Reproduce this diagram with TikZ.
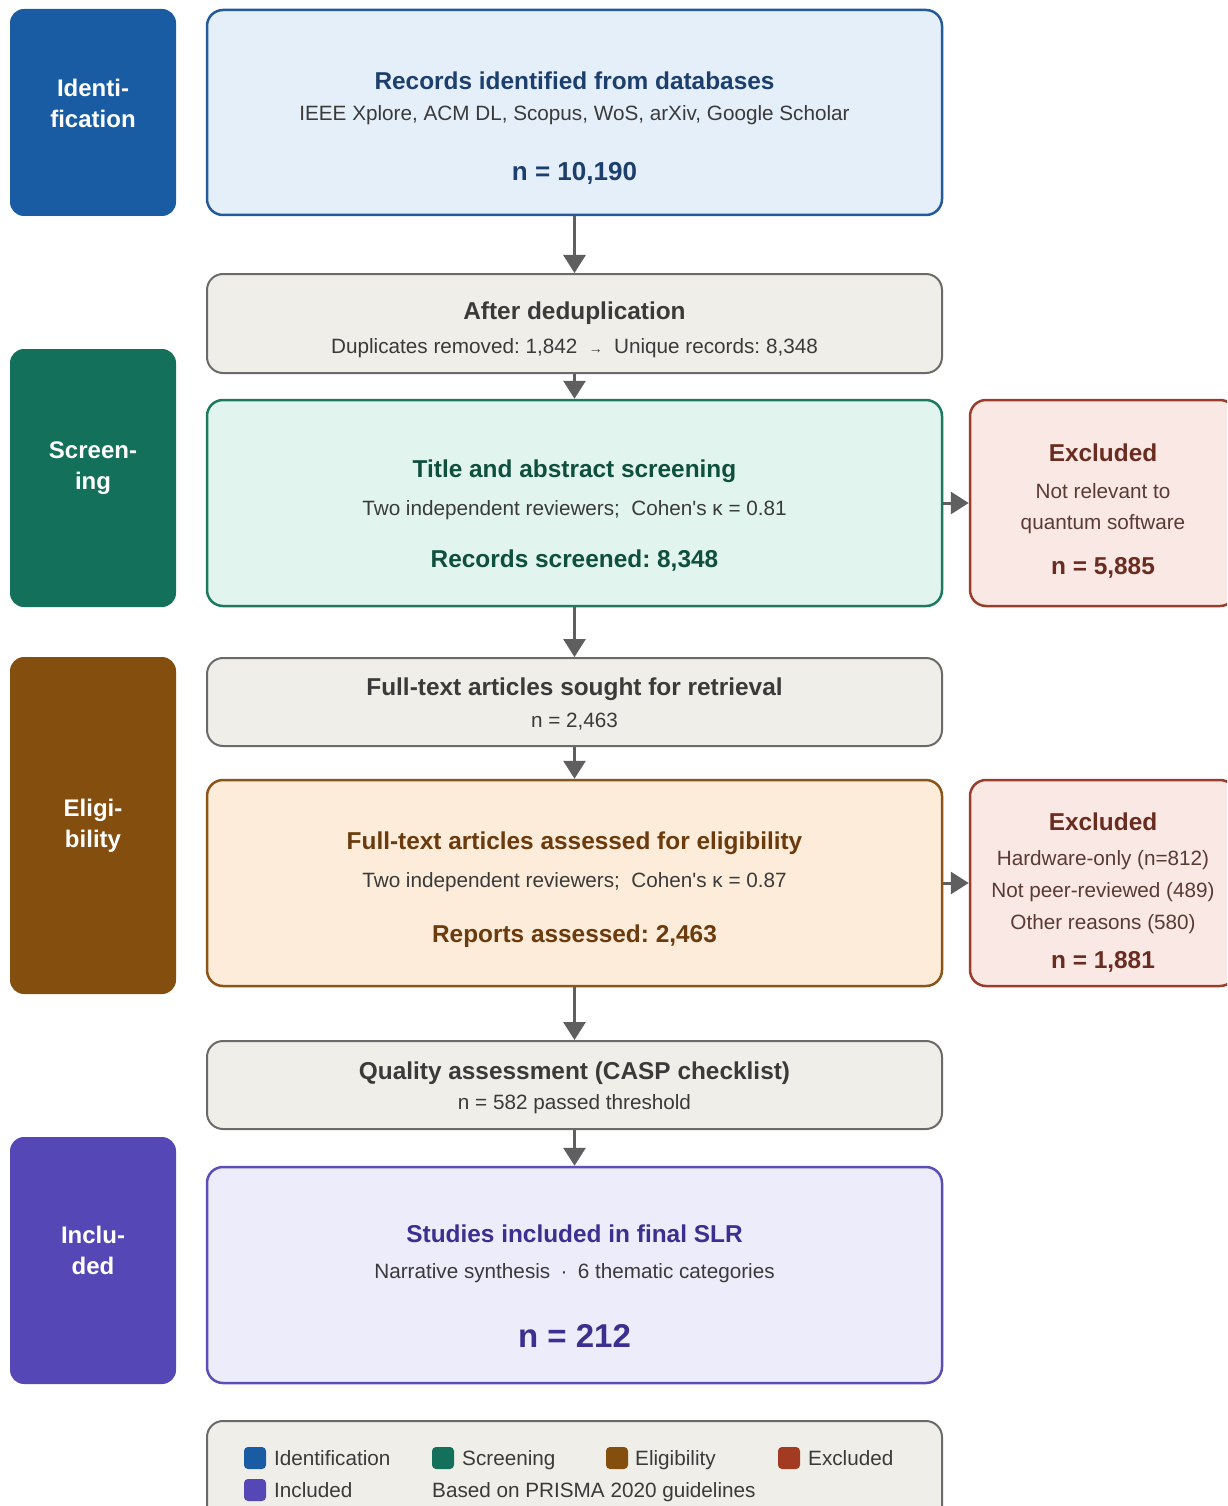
\documentclass[tikz,border=0pt]{standalone}
\usepackage{fontspec}
\setmainfont{Liberation Sans}[Ligatures=TeXOff]
\usetikzlibrary{arrows.meta}
\frenchspacing
\definecolor{phId}{HTML}{1A5CA4}
\definecolor{phSc}{HTML}{13705A}
\definecolor{phEl}{HTML}{844F0E}
\definecolor{phIn}{HTML}{5548B6}
\definecolor{phEx}{HTML}{A33A22}
\definecolor{fId}{HTML}{E5EFFA}
\definecolor{dId}{HTML}{245A9A}
\definecolor{tId}{HTML}{1C3F6E}
\definecolor{fSc}{HTML}{E1F5EE}
\definecolor{dSc}{HTML}{1D7A5F}
\definecolor{tSc}{HTML}{0F4F3E}
\definecolor{fEl}{HTML}{FCECD9}
\definecolor{dEl}{HTML}{8B5419}
\definecolor{tEl}{HTML}{6B3B0D}
\definecolor{fIn}{HTML}{EDECFB}
\definecolor{dIn}{HTML}{5B4FB7}
\definecolor{tIn}{HTML}{3B2F8F}
\definecolor{fEx}{HTML}{F9E8E4}
\definecolor{dEx}{HTML}{9B3D2D}
\definecolor{tEx}{HTML}{6A2C20}
\definecolor{bEx}{HTML}{5A3A35}
\definecolor{fGr}{HTML}{F0EEE9}
\definecolor{dGr}{HTML}{6A6A6A}
\definecolor{tGr}{HTML}{3A3A3A}
\definecolor{arrowc}{HTML}{5F5F5F}
\begin{document}
\begin{tikzpicture}[x=1pt,y=-1pt,
  phase/.style={rectangle, rounded corners=14pt, inner sep=0pt, draw=none},
  phlabel/.style={inner sep=0pt, text=white, align=center, font=\fontsize{24}{31}\selectfont\bfseries},
  box/.style={rectangle, rounded corners=16pt, line width=2.5pt, inner sep=0pt},
  graybox/.style={box, fill=fGr, draw=dGr, line width=2pt},
  ttl/.style={inner sep=0pt, font=\fontsize{24.4}{28}\selectfont\bfseries, text height=17.5pt, text depth=5pt},
  body/.style={inner sep=0pt, text=tGr, font=\fontsize{20.7}{25}\selectfont},
  arr/.style={draw=arrowc, line width=3pt, -{Triangle[width=22pt,length=18pt]}},
  sq/.style={rectangle, rounded corners=4pt, minimum width=22pt, minimum height=22pt, inner sep=0pt},
  leg/.style={inner sep=0pt, anchor=west, text=tGr, font=\fontsize{20.7}{25}\selectfont, text height=15pt, text depth=4.5pt}
]
\path[use as bounding box] (0,0) rectangle (1227,1506);
\clip (0,0) rectangle (1227,1506);
\fill[white] (0,0) rectangle (1227,1506);

% phase boxes
\node[phase, fill=phId, minimum width=166pt, minimum height=207pt] (phid) at (93,112.5) {};
\node[phase, fill=phSc, minimum width=166pt, minimum height=258pt] (phsc) at (93,478) {};
\node[phase, fill=phEl, minimum width=166pt, minimum height=337pt] (phel) at (93,825.5) {};
\node[phase, fill=phIn, minimum width=166pt, minimum height=247pt] (phin) at (93,1260.5) {};
\node[phlabel] (lid) at (93,103.5) {Identi-\\fication};
\node[phlabel] (lsc) at (93,468.5) {Screen-\\ing};
\node[phlabel] (lel) at (93,825.5) {Eligi-\\bility};
\node[phlabel] (lin) at (93,1250.5) {Inclu-\\ded};

% main boxes
\node[box, fill=fId, draw=dId, minimum width=735pt, minimum height=205pt] (rec) at (574.5,112.5) {};
\node[graybox, minimum width=735pt, minimum height=99pt] (dedup) at (574.5,323.5) {};
\node[box, fill=fSc, draw=dSc, minimum width=735pt, minimum height=206pt] (scr) at (574.5,503) {};
\node[graybox, minimum width=735pt, minimum height=88pt] (sought) at (574.5,702) {};
\node[box, fill=fEl, draw=dEl, minimum width=735pt, minimum height=206pt] (elig) at (574.5,883) {};
\node[graybox, minimum width=735pt, minimum height=88pt] (qual) at (574.5,1085) {};
\node[box, fill=fIn, draw=dIn, minimum width=735pt, minimum height=216pt] (incl) at (574.5,1275) {};
\node[graybox, minimum width=735pt, minimum height=120pt] (legend) at (574.5,1481) {};
\node[box, fill=fEx, draw=dEx, minimum width=266pt, minimum height=206pt] (ex1) at (1103,503) {};
\node[box, fill=fEx, draw=dEx, minimum width=266pt, minimum height=206pt] (ex2) at (1103,883) {};

% texts
\node[ttl, text=tId] (t1) at (574.5,83) {Records identified from databases};
\node[body] (t1b) at (574.5,115.5) {IEEE Xplore, ACM DL, Scopus, WoS, arXiv, Google Scholar};
\node[inner sep=0pt, text=tId, font=\fontsize{26}{30}\selectfont\bfseries] (t1n) at (574.5,173) {n = 10,190};

\node[ttl, text=tGr] (t2) at (574.5,313.5) {After deduplication};
\node[body] (t2b) at (574.5,348.5) {Duplicates removed: 1,842\hspace{0.55em}{\fontsize{14}{16}\selectfont →}\hspace{0.55em}Unique records: 8,348};

\node[ttl, text=tSc] (t3) at (574.5,471.5) {Title and abstract screening};
\node[body] (t3b) at (574.5,510) {Two independent reviewers;\hspace{0.55em}Cohen's κ = 0.81};
\node[ttl, text=tSc] (t3n) at (574.5,561.5) {Records screened: 8,348};

\node[ttl, text=tEx] (e1) at (1103,455.5) {Excluded};
\node[body, text=bEx, align=center, font=\fontsize{20.7}{31}\selectfont] (e1b) at (1103,509) {Not relevant to\\quantum software};
\node[inner sep=0pt, text=tEx, font=\fontsize{24.4}{28}\selectfont\bfseries] (e1n) at (1103,567.5) {n = 5,885};

\node[ttl, text=tGr] (t4) at (574.5,689.5) {Full-text articles sought for retrieval};
\node[body] (t4b) at (574.5,721.5) {n = 2,463};

\node[ttl, text=tEl] (t5) at (574.5,843.5) {Full-text articles assessed for eligibility};
\node[body] (t5b) at (574.5,882) {Two independent reviewers;\hspace{0.55em}Cohen's κ = 0.87};
\node[ttl, text=tEl] (t5n) at (574.5,936.5) {Reports assessed: 2,463};

\node[ttl, text=tEx] (e2) at (1103,824.5) {Excluded};
\node[body, text=bEx, align=center, font=\fontsize{20.7}{32}\selectfont] (e2b) at (1103,892.5) {Hardware-only (n=812)\\Not peer-reviewed (489)\\Other reasons (580)};
\node[inner sep=0pt, text=tEx, font=\fontsize{24.4}{28}\selectfont\bfseries] (e2n) at (1103,961.5) {n = 1,881};

\node[ttl, text=tGr] (t6) at (574.5,1073.5) {Quality assessment (CASP checklist)};
\node[body] (t6b) at (574.5,1104.5) {n = 582 passed threshold};

\node[ttl, text=tIn] (t7) at (574.5,1236.5) {Studies included in final SLR};
\node[body] (t7b) at (574.5,1273) {Narrative synthesis\hspace{0.5em}·\hspace{0.5em}6 thematic categories};
\node[inner sep=0pt, text=tIn, font=\fontsize{33}{38}\selectfont\bfseries] (t7n) at (574.5,1335.5) {n = 212};

% arrows
\draw[arr] (rec.south) -- (dedup.north);
\draw[arr] (dedup.south) -- (scr.north);
\draw[arr] (scr.south) -- (sought.north);
\draw[arr] (sought.south) -- (elig.north);
\draw[arr] (elig.south) -- (qual.north);
\draw[arr] (qual.south) -- (incl.north);
\draw[arr] (scr.east) -- (ex1.west);
\draw[arr] (elig.east) -- (ex2.west);

% legend
\node[sq, fill=phId] (s1) at (255,1458) {};
\node[leg] (l1) at (274,1460.5) {Identification};
\node[sq, fill=phSc] (s2) at (443,1458) {};
\node[leg] (l2) at (462,1460.5) {Screening};
\node[sq, fill=phEl] (s3) at (617,1458) {};
\node[leg] (l3) at (635,1460.5) {Eligibility};
\node[sq, fill=phEx] (s4) at (789,1458) {};
\node[leg] (l4) at (808,1460.5) {Excluded};
\node[sq, fill=phIn] (s5) at (255,1490) {};
\node[leg] (l5) at (274,1492.5) {Included};
\node[leg] (l6) at (432,1492.5) {Based on PRISMA 2020 guidelines};
\end{tikzpicture}
\end{document}
